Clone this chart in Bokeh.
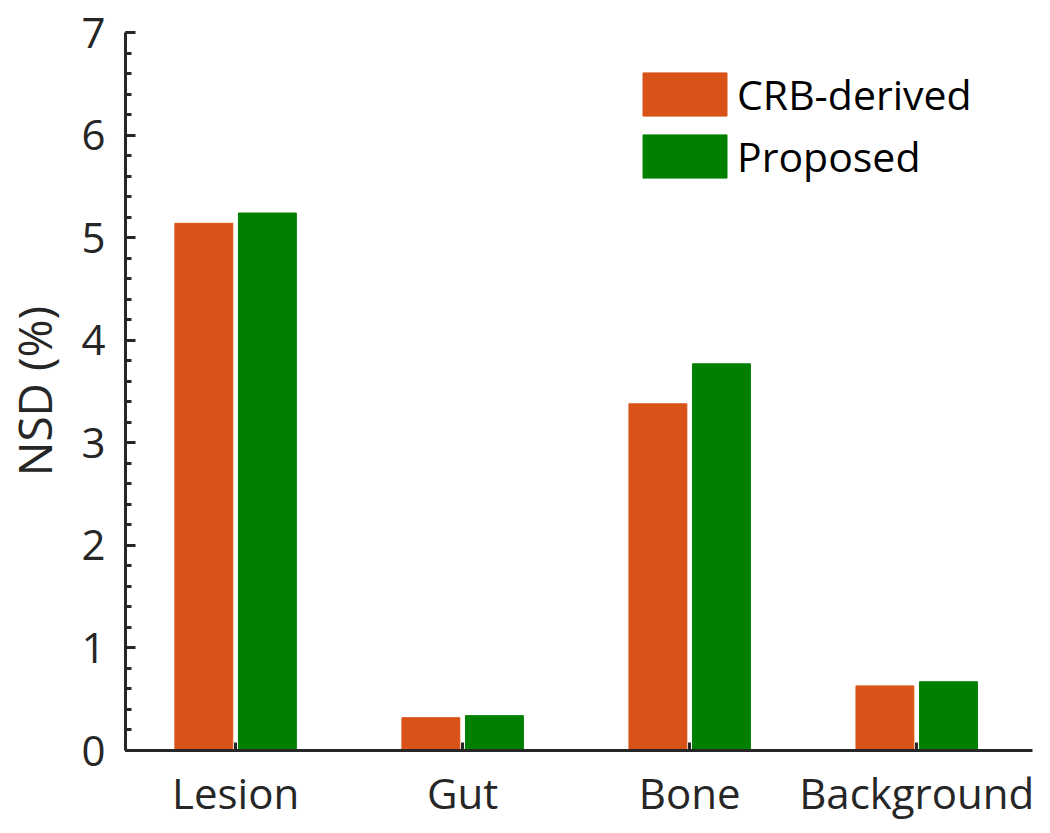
import math
from bokeh.plotting import figure
from bokeh.layouts import row
from bokeh.models import ColumnDataSource, FixedTicker, Range1d, Legend, LegendItem
from bokeh.core.properties import value
from bokeh.embed import file_html
from bokeh.resources import INLINE

categories = ["Lesion", "Gut", "Bone", "Background"]
crb_derived = [5.14, 0.32, 3.38, 0.63]
proposed = [5.24, 0.34, 3.77, 0.67]
series_names = ["CRB-derived", "Proposed"]
colors = ["#D95319", "#008000"]
y_title = "NSD (%)"

xpos = list(range(1, len(categories) + 1))
offset = 0.14
bar_w = 0.255

FONT = "Open Sans"
TXT = "#262626"
H = 825
SIDE_W = 68

# narrow panel holding the y-axis title
side = figure(width=SIDE_W, height=H, output_backend="svg", toolbar_location=None,
              x_range=Range1d(0, SIDE_W), y_range=Range1d(0, H),
              min_border_left=0, min_border_right=0, min_border_top=0, min_border_bottom=0)
side.axis.visible = False
side.grid.visible = False
side.outline_line_color = None
side.text(x=[33], y=[H - 412], text=[y_title], angle=math.pi / 2,
          text_align="center", text_baseline="middle",
          text_font=value(FONT), text_font_size="46px", text_color=TXT)

p = figure(width=1040 - SIDE_W, height=H, output_backend="svg", toolbar_location=None,
           x_range=Range1d(0.515, 4.51), y_range=Range1d(0, 7),
           min_border_left=125 - SIDE_W, min_border_right=8, min_border_top=32, min_border_bottom=75)
p.outline_line_color = None
p.xgrid.grid_line_color = None
p.ygrid.grid_line_color = None
p.background_fill_color = "white"

src1 = ColumnDataSource(dict(x=[v - offset for v in xpos], top=crb_derived))
src2 = ColumnDataSource(dict(x=[v + offset for v in xpos], top=proposed))
r1 = p.vbar(x="x", top="top", width=bar_w, source=src1, fill_color=colors[0], line_color=colors[0], line_width=1)
r2 = p.vbar(x="x", top="top", width=bar_w, source=src2, fill_color=colors[1], line_color=colors[1], line_width=1)

# axes
ya = p.yaxis[0]
ya.ticker = FixedTicker(ticks=[0, 1, 2, 3, 4, 5, 6, 7],
                        minor_ticks=[i / 5 for i in range(0, 36)])
ya.major_tick_in = 10
ya.major_tick_out = 0
ya.minor_tick_in = 6
ya.minor_tick_out = 0
ya.axis_line_width = 3
ya.axis_line_color = TXT
ya.major_tick_line_width = 3
ya.minor_tick_line_width = 3
ya.major_tick_line_color = TXT
ya.minor_tick_line_color = TXT
ya.major_label_text_font = FONT
ya.major_label_text_font_size = "42px"
ya.major_label_text_color = TXT
ya.major_label_standoff = 20

xa = p.xaxis[0]
xa.ticker = FixedTicker(ticks=xpos, minor_ticks=[])
xa.major_label_overrides = {v: c for v, c in zip(xpos, categories)}
xa.major_tick_in = 8
xa.major_tick_out = 0
xa.axis_line_width = 3
xa.axis_line_color = TXT
xa.major_tick_line_width = 3
xa.major_tick_line_color = TXT
xa.major_label_text_font = FONT
xa.major_label_text_font_size = "42px"
xa.major_label_text_color = TXT
xa.major_label_standoff = 13

legend = Legend(items=[LegendItem(label=series_names[0], renderers=[r1]),
                       LegendItem(label=series_names[1], renderers=[r2])],
                location=(507, 566), orientation="vertical",
                glyph_width=105, glyph_height=54, spacing=6, padding=0, margin=0,
                label_standoff=0, label_text_font=FONT, label_text_font_size="41px",
                label_text_color="black", label_height=54,
                border_line_color=None, background_fill_alpha=0)
p.add_layout(legend)

layout = row(side, p, spacing=0)
open("out.html", "w").write(file_html(layout, INLINE))
